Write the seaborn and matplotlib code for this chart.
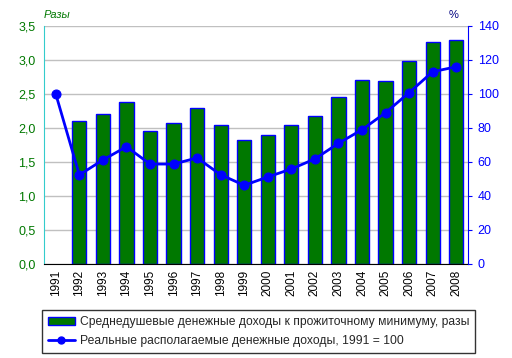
import matplotlib
matplotlib.use("Agg")
import matplotlib.pyplot as plt
import seaborn as sns
import pandas as pd
import numpy as np
from matplotlib.ticker import FuncFormatter, MultipleLocator

years = [str(y) for y in range(1991, 2009)]
ratio = [np.nan, 2.10, 2.20, 2.38, 1.95, 2.07, 2.29, 2.04, 1.82, 1.89, 2.04, 2.17, 2.45, 2.70, 2.69, 2.98, 3.27, 3.30]
real_income = [100, 52.4, 61.2, 69.0, 58.8, 58.8, 62.4, 52.5, 46.3, 51.2, 55.9, 61.8, 71.0, 79.0, 89.0, 100.8, 113.1, 116.0]
bar_label = "Среднедушевые денежные доходы к прожиточному минимуму, разы"
line_label = "Реальные располагаемые денежные доходы, 1991 = 100"

sns.set_style("white")
plt.rcParams['font.family'] = ['Liberation Sans', 'DejaVu Sans']

df = pd.DataFrame({"year": years, "ratio": ratio, "real": real_income, "pos": np.arange(len(years))})

fig = plt.figure(figsize=(5.12, 3.58), dpi=100)
ax = fig.add_axes([44/512, 94/358, 424/512, 238/358])

GREEN = "#007800"
BLUE = "#0000ff"

sns.barplot(data=df, x="year", y="ratio", order=years, color=GREEN, width=0.6,
            edgecolor=BLUE, linewidth=1.0, saturation=1, ax=ax, errorbar=None)
ax.set_xlim(-0.5, len(years) - 0.5)
ax.set_ylim(0, 3.5)
ax.yaxis.set_major_locator(MultipleLocator(0.5))
ax.yaxis.set_major_formatter(FuncFormatter(lambda v, p: f"{v:.1f}".replace(".", ",")))
ax.grid(axis="y", color="#c0c0c0", linewidth=1)
ax.set_axisbelow(True)
ax.set_xlabel("")
ax.set_ylabel("")
ax.tick_params(axis="x", labelrotation=90, labelsize=8.5, colors="black", length=0, pad=4)
ax.tick_params(axis="y", labelsize=9, labelcolor=GREEN, length=0, pad=6)
for s in ["top", "right"]:
    ax.spines[s].set_visible(False)
ax.spines["left"].set_color("#33cccc")
ax.spines["bottom"].set_color("black")

ax2 = ax.twinx()
sns.lineplot(data=df, x="pos", y="real", color=BLUE, linewidth=2, marker="o",
             markersize=6.5, markeredgecolor=BLUE, ax=ax2)
ax2.set_ylim(0, 140)
ax2.yaxis.set_major_locator(MultipleLocator(20))
ax2.set_xlim(-0.5, len(years) - 0.5)
ax2.set_ylabel("")
ax2.tick_params(axis="y", labelsize=9, labelcolor=BLUE, length=3, color=BLUE, pad=4)
for s in ["top", "left", "bottom"]:
    ax2.spines[s].set_visible(False)
ax2.spines["right"].set_color(BLUE)

fig.text(57/512, 1 - 15/358, "Разы", color=GREEN, fontsize=8, style="italic", va="center", ha="center")
fig.text(454/512, 1 - 15/358, "%", color="#000080", fontsize=8, va="center", ha="center")

from matplotlib.patches import Patch
from matplotlib.lines import Line2D
handles = [Patch(facecolor=GREEN, edgecolor=BLUE, linewidth=1),
           Line2D([0], [0], color=BLUE, linewidth=2, marker="o", markersize=5)]
leg = fig.legend(handles, [bar_label, line_label], loc="upper left",
                 bbox_to_anchor=(36/512, 1 - 304/358), fontsize=8.7, frameon=True,
                 fancybox=False, edgecolor="black", handlelength=2.2, handletextpad=0.4,
                 borderpad=0.5, labelspacing=0.6)
leg.get_frame().set_linewidth(1)

fig.savefig("out.png", dpi=100)
